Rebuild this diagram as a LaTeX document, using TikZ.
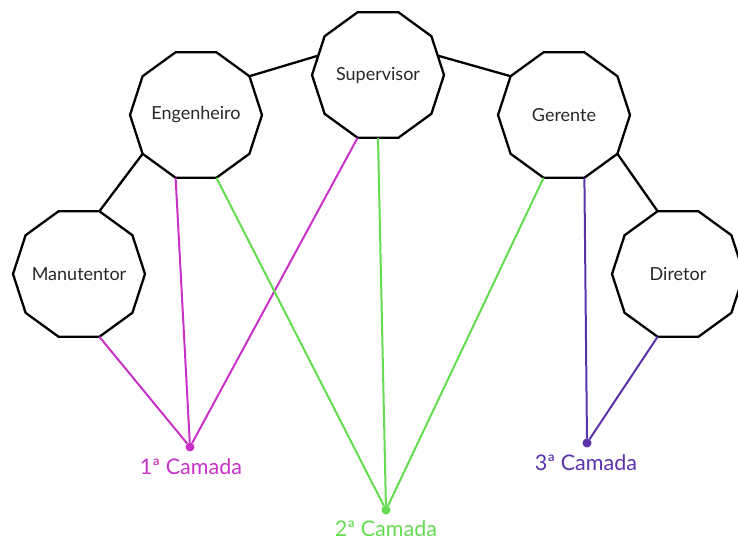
\documentclass[tikz,border=0pt]{standalone}
\usepackage{fontspec}
\setmainfont{Lato}
\usetikzlibrary{shapes.geometric}
\definecolor{camadaA}{RGB}{200,50,200}
\definecolor{camadaB}{RGB}{100,220,80}
\definecolor{camadaC}{RGB}{90,50,170}
\definecolor{inkgray}{RGB}{40,40,40}
% role names are centred without widening their decagon
\newcommand\rolename[1]{\makebox[0pt][c]{#1}}
\begin{document}
\begin{tikzpicture}[x=1pt,y=-1pt,
  role/.style={regular polygon, regular polygon sides=10, draw=black,
    line width=2.3pt, minimum size=132pt, inner sep=0pt, outer sep=0pt,
    fill=white, text=inkgray, font=\fontsize{18}{21}\selectfont},
  tie/.style={draw=black, line width=2.3pt},
  dot/.style={circle, fill=#1, inner sep=0pt, minimum size=9pt, outer sep=0pt},
  layerlabel/.style={text=#1, font=\fontsize{21.5}{25}\selectfont},
  layerline/.style={draw=#1, line width=2pt}]
\useasboundingbox (0,0) rectangle (738,542);

% roles
\node[role] (man) at (79,274) {\rolename{Manutentor}};
\node[role] (eng) at (196,115) {\rolename{Engenheiro}};
\node[role] (sup) at (378,75) {\rolename{Supervisor}};
\node[role] (ger) at (564,115) {\rolename{Gerente}};
\node[role] (dir) at (678,274) {\rolename{Diretor}};

% hierarchy ties
\draw[tie] (man.72) -- (eng.216);
\draw[tie] (eng.36) -- (sup.162);
\draw[tie] (sup.18) -- (ger.144);
\draw[tie] (ger.324) -- (dir.108);

% layer hubs and their labels
\node[dot=camadaA] (d1) at (190,447) {};
\node[dot=camadaB] (d2) at (386,510) {};
\node[dot=camadaC] (d3) at (587,443) {};
\node[layerlabel=camadaA] (l1) at (191,467) {1ª Camada};
\node[layerlabel=camadaB] (l2) at (386,529) {2ª Camada};
\node[layerlabel=camadaC] (l3) at (586,463) {3ª Camada};

% links from the roles to each layer
\draw[layerline=camadaA] (man.288) -- (d1);
\draw[layerline=camadaA] (eng.252) -- (d1);
\draw[layerline=camadaA] (sup.252) -- (d1);
\draw[layerline=camadaB] (eng.288) -- (d2);
\draw[layerline=camadaB] (sup.270) -- (d2);
\draw[layerline=camadaB] (ger.252) -- (d2);
\draw[layerline=camadaC] (ger.288) -- (d3);
\draw[layerline=camadaC] (dir.252) -- (d3);
\end{tikzpicture}
\end{document}
